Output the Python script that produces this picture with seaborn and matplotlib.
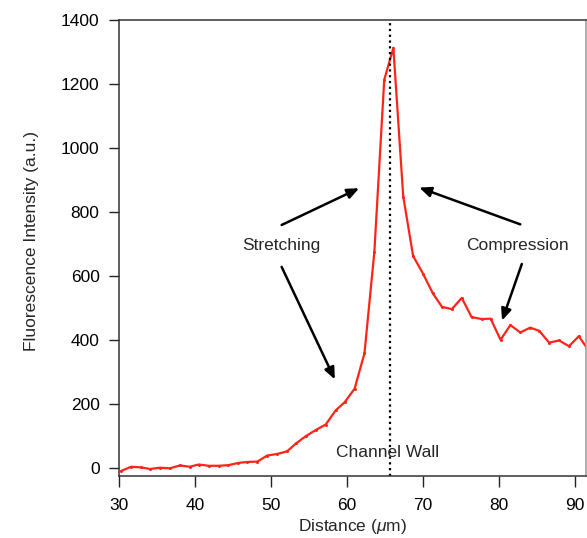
import matplotlib
matplotlib.use("Agg")
import matplotlib.pyplot as plt
import seaborn as sns
import pandas as pd

# Fluorescence intensity profile across the channel wall
distance_um = [30.3, 31.6, 32.9, 34.1, 35.4, 36.7, 38.0, 39.3, 40.5, 41.8,
               43.1, 44.4, 45.7, 46.9, 48.2, 49.5, 50.8, 52.1, 53.3, 54.6,
               55.9, 57.2, 58.5, 59.7, 61.0, 62.3, 63.6, 64.9, 66.1, 67.4,
               68.7, 70.0, 71.3, 72.5, 73.8, 75.1, 76.4, 77.7, 78.9, 80.2,
               81.5, 82.8, 84.1, 85.3, 86.6, 87.9, 89.2, 90.5, 91.7]
intensity = [-10, 3, 1, -4, 0, -2, 7, 3, 10, 6,
             6, 8, 15, 18, 19, 38, 43, 51, 76, 99,
             118, 135, 179, 205, 247, 358, 675, 1213, 1313, 848,
             662, 607, 545, 503, 496, 531, 471, 465, 466, 400,
             446, 423, 438, 428, 391, 398, 380, 411, 370]

wall_position = 65.6
x_ticks = [30, 40, 50, 60, 70, 80, 90]
y_ticks = [0, 200, 400, 600, 800, 1000, 1200, 1400]

df = pd.DataFrame({"Distance": distance_um, "Intensity": intensity})

sns.set_style("ticks")
plt.rcParams["font.family"] = ["Liberation Sans", "DejaVu Sans"]
plt.rcParams["mathtext.fontset"] = "custom"
plt.rcParams["mathtext.it"] = "Liberation Sans:italic"
plt.rcParams["mathtext.rm"] = "Liberation Sans"

fig = plt.figure(figsize=(5.87, 5.38), dpi=100)
ax = fig.add_axes([0.2027, 0.1152, 0.7963, 0.8476])

sns.lineplot(data=df, x="Distance", y="Intensity", ax=ax, color="#ff2418",
             linewidth=1.6, marker="o", markersize=2.2, markeredgewidth=0,
             clip_on=True)

ax.axvline(wall_position, color="black", linestyle=(0, (1, 1.6)), linewidth=1.6)

ax.set_xlim(30, 91.5)
ax.set_ylim(-26, 1400)
ax.set_xticks(x_ticks)
ax.set_yticks(y_ticks)
ax.tick_params(direction="out", width=1.0, labelsize=12.5,
               colors="#222222", labelcolor="black")
ax.tick_params(axis="x", length=8, pad=8)
ax.tick_params(axis="y", length=7, pad=7)
for side in ["left", "right", "top", "bottom"]:
    ax.spines[side].set_visible(True)
    ax.spines[side].set_linewidth(1.1)
    ax.spines[side].set_color("#333333")
ax.spines["right"].set_color("#999999")

ax.set_xlabel(r"Distance ($\mu$m)", fontsize=12.5, labelpad=3)
ax.set_ylabel("Fluorescence Intensity (a.u.)", fontsize=12.5)
ax.yaxis.set_label_coords(-0.171, 0.515)

arrow_style = dict(arrowstyle="-|>,head_length=0.7,head_width=0.3",
                   color="black", lw=1.8, shrinkA=0, shrinkB=0)

ax.text(51.4, 695, "Stretching", fontsize=12.5, ha="center", va="center")
ax.annotate("", xy=(61.6, 874), xytext=(51.4, 759), arrowprops=arrow_style)
ax.annotate("", xy=(58.4, 276), xytext=(51.4, 628), arrowprops=arrow_style)

ax.text(82.4, 695, "Compression", fontsize=12.5, ha="center", va="center")
ax.annotate("", xy=(69.5, 876), xytext=(82.8, 761), arrowprops=arrow_style)
ax.annotate("", xy=(80.4, 460), xytext=(83.0, 637), arrowprops=arrow_style)

ax.text(65.4, 48, "Channel Wall", fontsize=12.5, ha="center", va="center")

fig.savefig("out.png", dpi=100)
